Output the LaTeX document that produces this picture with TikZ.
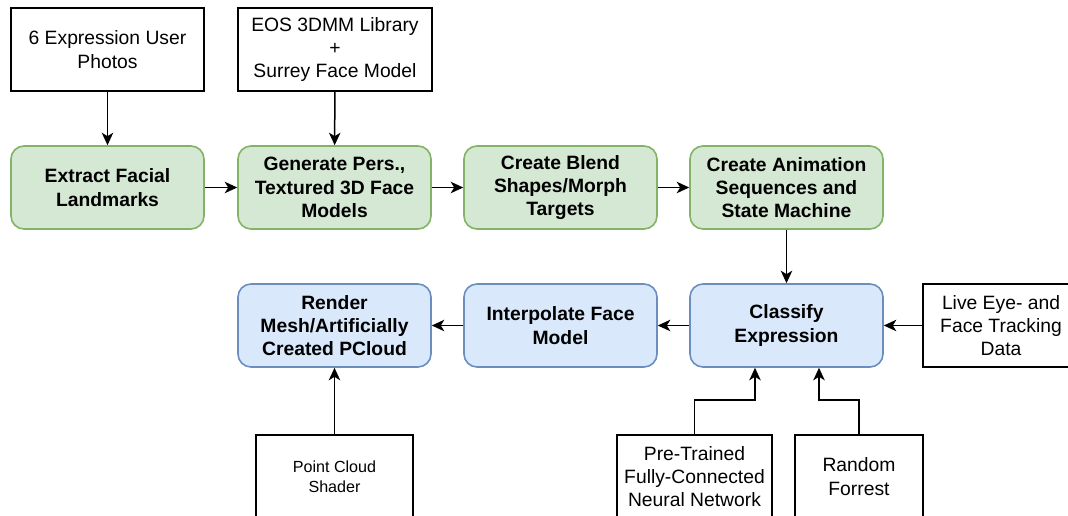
\documentclass[tikz,border=0pt]{standalone}
\usepackage{fontspec}
\setmainfont{Liberation Sans}
\usetikzlibrary{arrows.meta}

\definecolor{stepgreen}{HTML}{D5E8D4}
\definecolor{stepgreenline}{HTML}{82B366}
\definecolor{stepblue}{HTML}{DAE8FC}
\definecolor{stepblueline}{HTML}{6C8EBF}

\newcommand{\labelfont}{\fontsize{19.3}{23.4}\selectfont}
\newcommand{\smallfont}{\fontsize{16.1}{19.8}\selectfont}

\tikzset{
  inputbox/.style={draw=black, fill=white, line width=1.6pt, minimum height=83pt,
    inner sep=0pt, align=center, font=\labelfont},
  stepbox/.style={line width=1.6pt, rounded corners=13pt, minimum width=193pt,
    minimum height=83pt, inner sep=0pt, align=center, font=\labelfont\bfseries},
  buildbox/.style={stepbox, draw=stepgreenline, fill=stepgreen},
  runbox/.style={stepbox, draw=stepblueline, fill=stepblue},
  conn/.style={draw=black, line width=1.5pt,
    -{Stealth[length=12.5pt, width=11.5pt, inset=3.5pt]}},
}

\begin{document}
\begin{tikzpicture}[x=1pt, y=-1pt]
  \useasboundingbox (0,0) rectangle (1068,515);
  \clip (0,0) rectangle (1068,515);

  % inputs
  \node[inputbox, minimum width=193pt] (photos) at (107.5,49.5) {6 Expression User\\Photos};
  \node[inputbox, minimum width=194pt] (eos) at (335,49.5) {EOS 3DMM Library\\+\\Surrey Face Model};

  % model building pipeline
  \node[buildbox] (extract) at (107.5,187.5) {Extract Facial\\Landmarks};
  \node[buildbox] (gen) at (334.5,187.5) {Generate Pers.,\\Textured 3D Face\\Models};
  \node[buildbox] (blend) at (560.5,187.5) {Create Blend\\Shapes/Morph\\Targets};
  \node[buildbox] (anim) at (786.5,187.5) {Create Animation\\Sequences and\\State Machine};

  % runtime pipeline
  \node[runbox] (render) at (334.5,325.5) {Render\\Mesh/Artificially\\Created PCloud};
  \node[runbox] (interp) at (560.5,325.5) {Interpolate Face\\Model};
  \node[runbox] (classify) at (786.5,325.5) {Classify\\Expression};

  % runtime inputs
  \node[inputbox, minimum width=156pt] (live) at (1001,325.5) {Live Eye- and\\Face Tracking\\Data};
  \node[inputbox, minimum width=155pt] (nn) at (694.5,476.5) {Pre-Trained\\Fully-Connected\\Neural Network};
  \node[inputbox, minimum width=128pt] (rf) at (859,476.5) {Random\\Forrest};
  \node[inputbox, minimum width=157pt, font=\smallfont] (shader) at (334.5,476.5) {Point Cloud\\Shader};

  % connectors
  \draw[conn] (photos) -- (extract);
  \draw[conn] (eos) -- (gen);
  \draw[conn] (extract) -- (gen);
  \draw[conn] (gen) -- (blend);
  \draw[conn] (blend) -- (anim);
  \draw[conn] (anim) -- (classify);
  \draw[conn] (classify) -- (interp);
  \draw[conn] (interp) -- (render);
  \draw[conn] (live.west) -- (classify.east);
  \draw[conn] (nn.north) -- ++(0,-34) -| ([xshift=-31.5pt]classify.south);
  \draw[conn] (rf.north) -- ++(0,-34) -| ([xshift=32.5pt]classify.south);
  \draw[conn] (shader) -- (render);
\end{tikzpicture}
\end{document}
